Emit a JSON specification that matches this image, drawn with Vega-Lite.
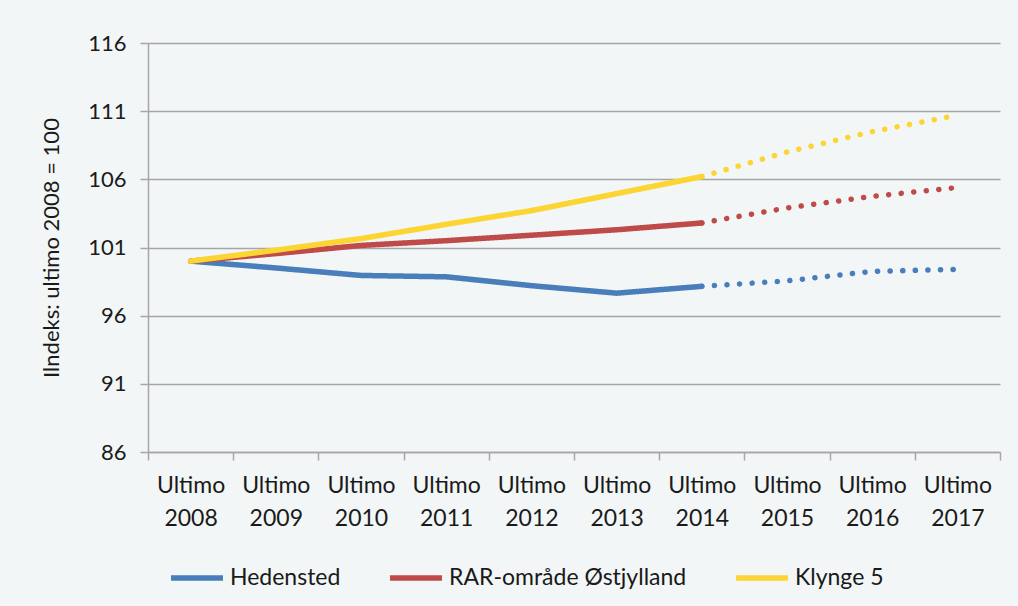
{
  "$schema": "https://vega.github.io/schema/vega-lite/v6.json",
  "autosize": "none",
  "width": 852,
  "height": 409,
  "padding": {"left": 148, "top": 43, "right": 18, "bottom": 154},
  "background": "#f2f6f6",
  "config": {
    "font": "Lato",
    "view": {"stroke": null},
    "axis": {"labelColor": "#1a1a1a", "titleColor": "#1a1a1a", "labelFont": "Lato", "titleFont": "Lato"},
    "legend": {"labelFont": "Lato"}
  },
  "data": {
    "values": [
      {"year": "2008", "series": "Hedensted", "value": 100, "seg": "Faktisk"},
      {"year": "2009", "series": "Hedensted", "value": 99.5, "seg": "Faktisk"},
      {"year": "2010", "series": "Hedensted", "value": 98.95, "seg": "Faktisk"},
      {"year": "2011", "series": "Hedensted", "value": 98.85, "seg": "Faktisk"},
      {"year": "2012", "series": "Hedensted", "value": 98.2, "seg": "Faktisk"},
      {"year": "2013", "series": "Hedensted", "value": 97.65, "seg": "Faktisk"},
      {"year": "2014", "series": "Hedensted", "value": 98.15, "seg": "Faktisk"},
      {"year": "2014", "series": "Hedensted", "value": 98.15, "seg": "Prognose"},
      {"year": "2015", "series": "Hedensted", "value": 98.55, "seg": "Prognose"},
      {"year": "2016", "series": "Hedensted", "value": 99.25, "seg": "Prognose"},
      {"year": "2017", "series": "Hedensted", "value": 99.4, "seg": "Prognose"},
      {"year": "2008", "series": "RAR-område Østjylland", "value": 100, "seg": "Faktisk"},
      {"year": "2009", "series": "RAR-område Østjylland", "value": 100.55, "seg": "Faktisk"},
      {"year": "2010", "series": "RAR-område Østjylland", "value": 101.15, "seg": "Faktisk"},
      {"year": "2011", "series": "RAR-område Østjylland", "value": 101.5, "seg": "Faktisk"},
      {"year": "2012", "series": "RAR-område Østjylland", "value": 101.9, "seg": "Faktisk"},
      {"year": "2013", "series": "RAR-område Østjylland", "value": 102.3, "seg": "Faktisk"},
      {"year": "2014", "series": "RAR-område Østjylland", "value": 102.8, "seg": "Faktisk"},
      {"year": "2014", "series": "RAR-område Østjylland", "value": 102.8, "seg": "Prognose"},
      {"year": "2015", "series": "RAR-område Østjylland", "value": 103.9, "seg": "Prognose"},
      {"year": "2016", "series": "RAR-område Østjylland", "value": 104.75, "seg": "Prognose"},
      {"year": "2017", "series": "RAR-område Østjylland", "value": 105.4, "seg": "Prognose"},
      {"year": "2008", "series": "Klynge 5", "value": 100, "seg": "Faktisk"},
      {"year": "2009", "series": "Klynge 5", "value": 100.8, "seg": "Faktisk"},
      {"year": "2010", "series": "Klynge 5", "value": 101.65, "seg": "Faktisk"},
      {"year": "2011", "series": "Klynge 5", "value": 102.7, "seg": "Faktisk"},
      {"year": "2012", "series": "Klynge 5", "value": 103.7, "seg": "Faktisk"},
      {"year": "2013", "series": "Klynge 5", "value": 104.95, "seg": "Faktisk"},
      {"year": "2014", "series": "Klynge 5", "value": 106.2, "seg": "Faktisk"},
      {"year": "2014", "series": "Klynge 5", "value": 106.2, "seg": "Prognose"},
      {"year": "2015", "series": "Klynge 5", "value": 108.0, "seg": "Prognose"},
      {"year": "2016", "series": "Klynge 5", "value": 109.5, "seg": "Prognose"},
      {"year": "2017", "series": "Klynge 5", "value": 110.7, "seg": "Prognose"}
    ]
  },
  "mark": {"type": "line", "strokeWidth": 5.5, "strokeCap": "round", "strokeJoin": "round"},
  "encoding": {
    "x": {
      "field": "year",
      "type": "ordinal",
      "scale": {"type": "band", "paddingInner": 0, "paddingOuter": 0},
      "axis": {
        "title": null,
        "labelAngle": 0,
        "labelExpr": "isValid(datum.value) && datum.label != '' ? ['Ultimo', datum.label] : ''",
        "labelFontSize": 23,
        "labelLineHeight": 33,
        "labelPadding": 14,
        "tickBand": "extent",
        "tickSize": 8,
        "tickColor": "#a6a6a6",
        "tickWidth": 1.5,
        "domainColor": "#a6a6a6",
        "domainWidth": 1.5,
        "grid": false
      }
    },
    "y": {
      "field": "value",
      "type": "quantitative",
      "scale": {"domain": [86, 116], "nice": false, "zero": false},
      "axis": {
        "title": "Ilndeks: ultimo 2008 = 100",
        "titleFontSize": 22,
        "titleFontWeight": "normal",
        "titlePadding": 24,
        "values": [86, 91, 96, 101, 106, 111, 116],
        "labelFontSize": 22,
        "labelPadding": 14,
        "tickSize": 8,
        "tickColor": "#a6a6a6",
        "tickWidth": 1.5,
        "domainColor": "#a6a6a6",
        "domainWidth": 1.5,
        "grid": true,
        "gridColor": "#a6a6a6",
        "gridWidth": 1.5
      }
    },
    "color": {
      "field": "series",
      "type": "nominal",
      "sort": ["Hedensted", "RAR-område Østjylland", "Klynge 5"],
      "scale": {
        "domain": ["Hedensted", "RAR-område Østjylland", "Klynge 5"],
        "range": ["#4a7ebb", "#be4b48", "#fdd533"]
      },
      "legend": {
        "title": null,
        "orient": "none",
        "direction": "horizontal",
        "legendX": 20,
        "legendY": 506,
        "symbolType": "stroke",
        "symbolStrokeWidth": 5.5,
        "symbolSize": 2700,
        "labelFontSize": 23,
        "labelColor": "#1a1a1a",
        "labelOffset": 4,
        "columnPadding": 38,
        "labelLimit": 400
      }
    },
    "strokeDash": {
      "field": "seg",
      "type": "nominal",
      "scale": {"domain": ["Faktisk", "Prognose"], "range": [[1, 0], [0.1, 12.5]]},
      "legend": null
    }
  }
}
